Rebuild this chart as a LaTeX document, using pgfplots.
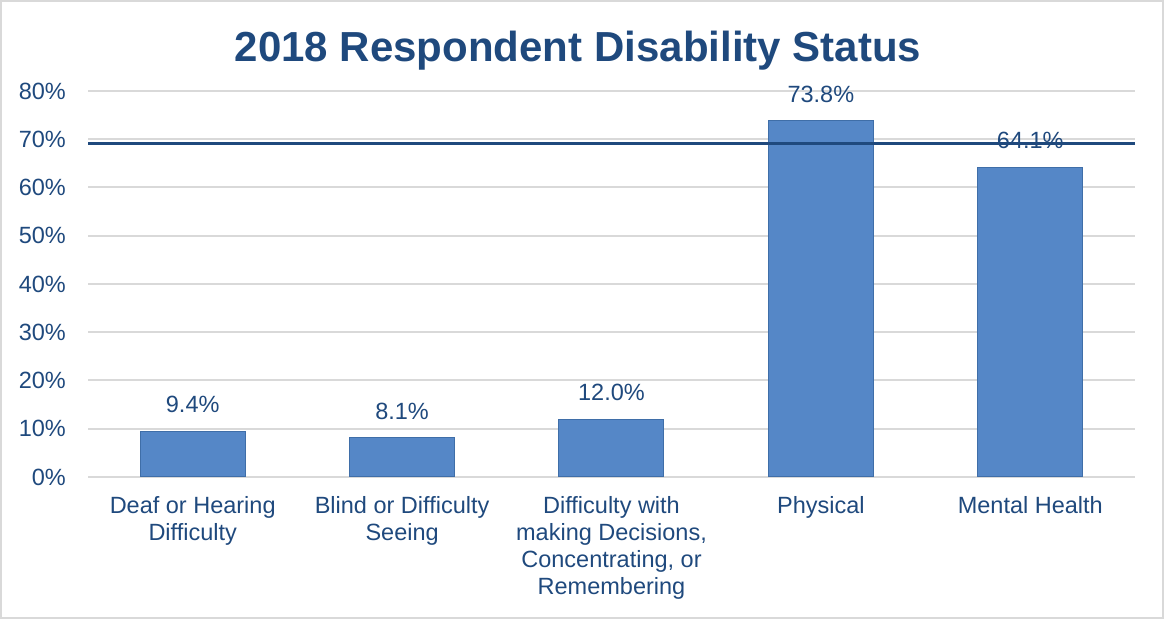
\documentclass[border=0pt]{standalone}
\usepackage{pgfplots}
\pgfplotsset{compat=1.18}
\usepackage{fontspec}
\setmainfont{Liberation Sans}
\definecolor{txtblue}{HTML}{1F497D}
\definecolor{barblue}{HTML}{5587C7}
\definecolor{bardark}{HTML}{3F6EA8}
\definecolor{gridgray}{HTML}{D9D9D9}
\definecolor{navy}{HTML}{1F497D}
\begin{document}
\begin{tikzpicture}[x=1pt,y=1pt]
\useasboundingbox (0,0) rectangle (1165,620);
\draw[gridgray, line width=2pt] (1,1.5) rectangle (1163,618.5);
\node[anchor=base, text=txtblue, font=\fontsize{42}{48}\selectfont\bfseries, inner sep=0pt] at (578,558) {2018 Respondent Disability Status};
\begin{axis}[
  at={(88pt,143pt)}, anchor=south west,
  scale only axis, width=1047pt, height=386pt,
  xmin=-0.5, xmax=4.5, ymin=0, ymax=80,
  ytick={0,10,...,80},
  xtick={0,1,2,3,4},
  xticklabels={{Deaf or Hearing\\Difficulty},{Blind or Difficulty\\Seeing},{Difficulty with\\making Decisions,\\Concentrating, or\\Remembering},{Physical},{Mental Health}},
  /pgf/number format/assume math mode=true,
  yticklabel={\pgfmathprintnumber{\tick}\%},
  ymajorgrids, grid style={gridgray, line width=2pt},
  axis line style={draw=none},
  major tick length=0pt,
  tick label style={text=txtblue, font=\fontsize{23.5}{27}\selectfont},
  yticklabel style={anchor=east, inner sep=0pt, xshift=-22pt},
  xticklabel style={align=center, anchor=north, inner sep=0pt, yshift=-19pt},
  clip=false,
]
\addplot[ybar, bar width=105pt, fill=barblue, draw=bardark, line width=1pt,
  nodes near coords={\pgfmathprintnumber[fixed,fixed zerofill,precision=1,assume math mode=true]{\pgfplotspointmeta}\%},
  every node near coord/.append style={anchor=south, inner sep=0pt, yshift=18pt, text=txtblue, font=\fontsize{23.5}{27}\selectfont},
] coordinates {(0,9.4) (1,8.1) (2,12.0) (3,73.8) (4,64.1)};
\addplot[navy, line width=2.5pt] coordinates {(-0.5,69.1) (4.5,69.1)};
\end{axis}
\end{tikzpicture}
\end{document}
